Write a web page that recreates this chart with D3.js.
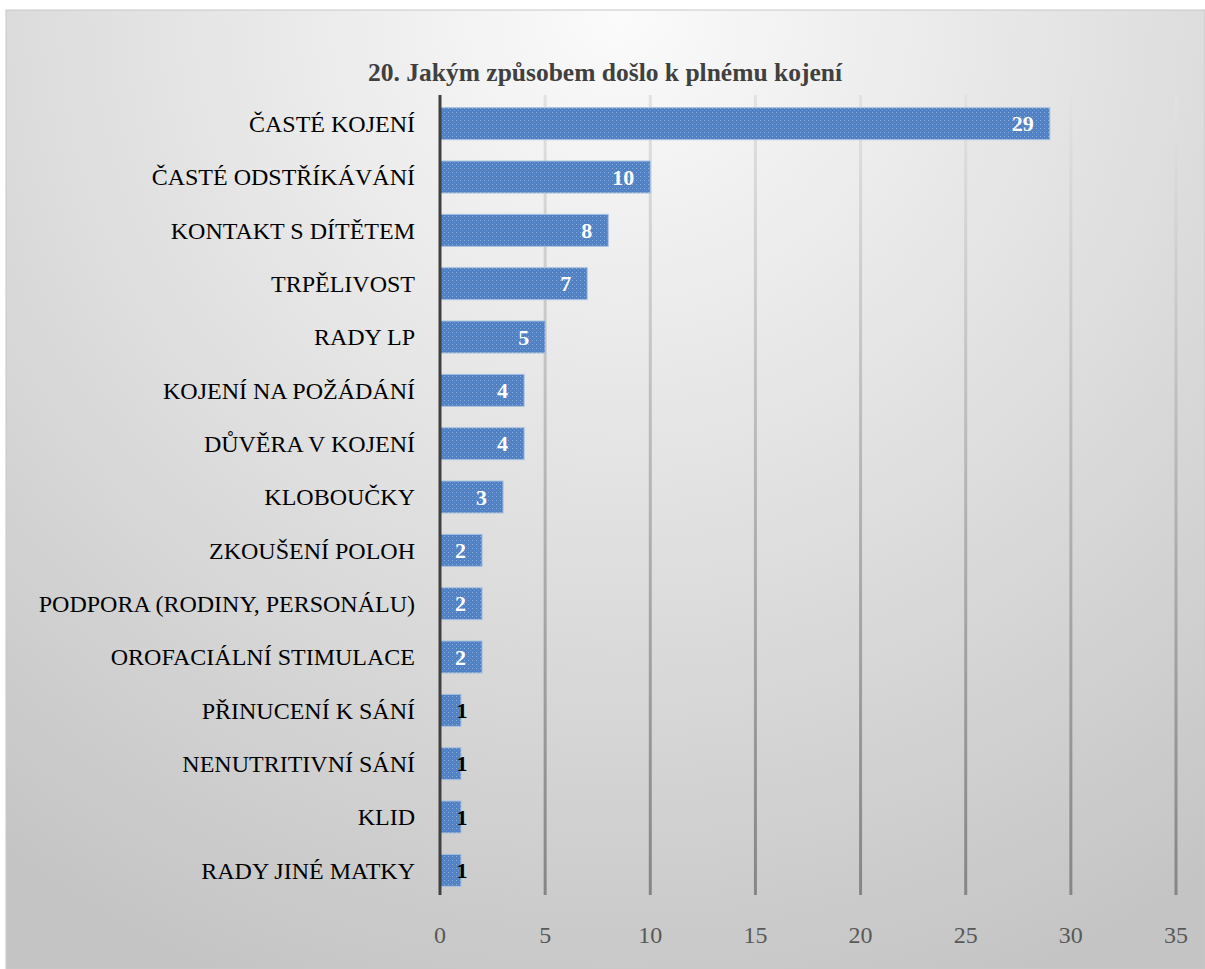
<!DOCTYPE html>
<html>
<head>
<meta charset="utf-8">
<script src="https://cdn.jsdelivr.net/npm/d3@7.9.0/dist/d3.min.js"></script>
<style>
  body { margin: 0; background: #fff; }
  svg { display: block; }
  svg text { font-family: 'Liberation Serif', 'Times New Roman', Times, serif; }
</style>
</head>
<body>
<svg id="chart" width="1205" height="969"></svg>
<script>
const title = '20. Jakým způsobem došlo k plnému kojení';

const categories = [
  'ČASTÉ KOJENÍ',
  'ČASTÉ ODSTŘÍKÁVÁNÍ',
  'KONTAKT S DÍTĚTEM',
  'TRPĚLIVOST',
  'RADY LP',
  'KOJENÍ NA POŽÁDÁNÍ',
  'DŮVĚRA V KOJENÍ',
  'KLOBOUČKY',
  'ZKOUŠENÍ POLOH',
  'PODPORA (RODINY, PERSONÁLU)',
  'OROFACIÁLNÍ STIMULACE',
  'PŘINUCENÍ K SÁNÍ',
  'NENUTRITIVNÍ SÁNÍ',
  'KLID',
  'RADY JINÉ MATKY'
];
const values = [29, 10, 8, 7, 5, 4, 4, 3, 2, 2, 2, 1, 1, 1, 1];
const xTicks = [0, 5, 10, 15, 20, 25, 30, 35];

const svg = d3.select('#chart');
const W = 1205, H = 969;
const margin = { top: 95, right: 29, bottom: 74, left: 440 };

const defs = svg.append('defs');

// background gradient
let bg = defs.append('radialGradient')
  .attr('id', 'bg')
  .attr('gradientUnits', 'userSpaceOnUse')
  .attr('cx', 620).attr('cy', 10).attr('r', 1050);
bg.append('stop').attr('offset', '0%').attr('stop-color', '#fbfbfb');
bg.append('stop').attr('offset', '50%').attr('stop-color', '#e0e0e0');
bg.append('stop').attr('offset', '100%').attr('stop-color', '#c4c4c4');

// gridline gradient (light at top, darker at bottom)
let gg = defs.append('linearGradient')
  .attr('id', 'grid')
  .attr('gradientUnits', 'userSpaceOnUse')
  .attr('x1', 0).attr('y1', margin.top).attr('x2', 0).attr('y2', H - margin.bottom);
gg.append('stop').attr('offset', '0%').attr('stop-color', '#e2e2e2');
gg.append('stop').attr('offset', '100%').attr('stop-color', '#858585');

// dotted bar texture
let pat = defs.append('pattern')
  .attr('id', 'barfill')
  .attr('patternUnits', 'userSpaceOnUse')
  .attr('width', 4).attr('height', 4);
pat.append('rect').attr('width', 4).attr('height', 4).attr('fill', '#4f81c4');
pat.append('rect').attr('x', 0).attr('y', 0).attr('width', 1).attr('height', 1).attr('fill', '#8fb0dc');
pat.append('rect').attr('x', 2).attr('y', 2).attr('width', 1).attr('height', 1).attr('fill', '#6d97d0');

svg.append('rect')
  .attr('x', 6).attr('y', 10)
  .attr('width', W - 6).attr('height', H - 10)
  .attr('fill', 'url(#bg)')
  .attr('stroke', '#c8c8c8').attr('stroke-width', 1);

const x = d3.scaleLinear()
  .domain([0, 35])
  .range([margin.left, W - margin.right]);

const y = d3.scaleBand()
  .domain(categories)
  .range([margin.top, H - margin.bottom])
  .paddingInner(0.4)
  .paddingOuter(0.2);

// gridlines
svg.append('g')
  .selectAll('line')
  .data(xTicks.slice(1))
  .join('line')
  .attr('x1', d => x(d)).attr('x2', d => x(d))
  .attr('y1', margin.top).attr('y2', H - margin.bottom)
  .attr('stroke', 'url(#grid)')
  .attr('stroke-width', 3);

// bars
svg.append('g')
  .selectAll('rect')
  .data(values)
  .join('rect')
  .attr('x', x(0))
  .attr('y', (d, i) => y(categories[i]) + 2)
  .attr('width', d => x(d) - x(0))
  .attr('height', y.bandwidth())
  .attr('fill', 'url(#barfill)')
  .attr('stroke', '#a9c1e2')
  .attr('stroke-width', 1);

// axis line
svg.append('line')
  .attr('x1', x(0)).attr('x2', x(0))
  .attr('y1', margin.top).attr('y2', H - margin.bottom)
  .attr('stroke', '#404040')
  .attr('stroke-width', 3);

// value labels
svg.append('g')
  .selectAll('text')
  .data(values)
  .join('text')
  .attr('x', d => d > 1 ? x(d) - 16 : x(d) + 1)
  .attr('y', (d, i) => y(categories[i]) + 2 + y.bandwidth() / 2)
  .attr('dy', '0.35em')
  .attr('text-anchor', d => d > 1 ? 'end' : 'middle')
  .attr('font-weight', 'bold')
  .attr('font-size', 22)
  .attr('fill', d => d > 1 ? '#ffffff' : '#000000')
  .text(d => d);

// category labels
svg.append('g')
  .selectAll('text')
  .data(categories)
  .join('text')
  .attr('x', margin.left - 25)
  .attr('y', d => y(d) + 2 + y.bandwidth() / 2)
  .attr('dy', '0.35em')
  .attr('text-anchor', 'end')
  .attr('font-size', 24)
  .attr('fill', '#000')
  .text(d => d);

// x tick labels
svg.append('g')
  .selectAll('text')
  .data(xTicks)
  .join('text')
  .attr('x', d => x(d))
  .attr('y', 943)
  .attr('text-anchor', 'middle')
  .attr('font-size', 24)
  .attr('fill', '#595959')
  .text(d => d);

// title
svg.append('text')
  .attr('x', 605)
  .attr('y', 81)
  .attr('text-anchor', 'middle')
  .attr('font-weight', 'bold')
  .attr('font-size', 25.5)
  .attr('fill', '#404040')
  .text(title);
</script>
</body>
</html>
